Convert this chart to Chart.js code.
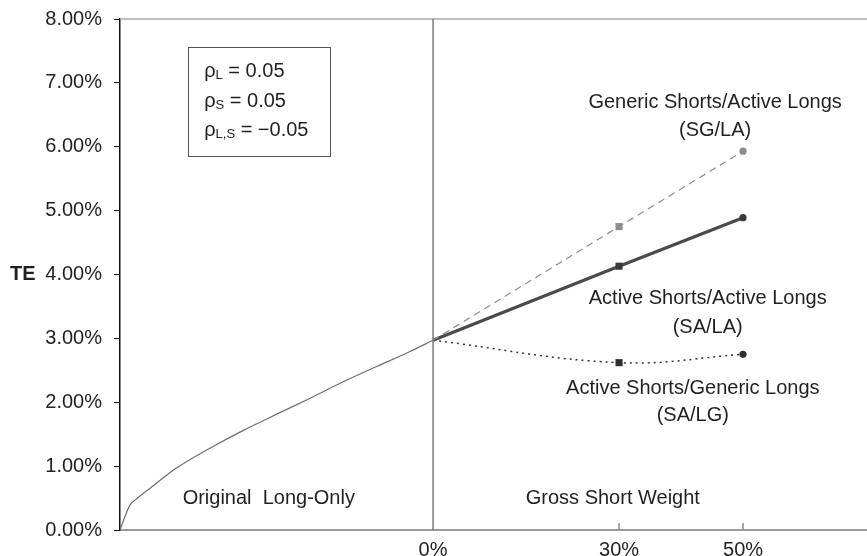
<!DOCTYPE html>
<html>
<head>
<meta charset="utf-8">
<script src="https://cdn.jsdelivr.net/npm/chart.js@4.4.0/dist/chart.umd.min.js"></script>
<style>
  html, body { margin: 0; padding: 0; background: #fff; overflow: hidden; }
  canvas { display: block; }
</style>
</head>
<body>
<canvas id="te-chart" width="867" height="556"></canvas>
<script>
(function () {
  'use strict';

  // --- Data (TE in %, x in gross short weight %) ---
  // Left side: the original long-only curve, rising to the 0% short point
  var longOnlyX  = [-50.5, -49.7, -48.9, -47.8, -45.7, -41.4, -36.0, -30.6, -25.3, -19.9, -14.5, -9.1, -3.8, 0];
  var longOnlyTE = [0.00, 0.21, 0.39, 0.49, 0.65, 0.97, 1.28, 1.56, 1.81, 2.06, 2.32, 2.56, 2.79, 2.97];

  var shortWeights = [0, 30, 50];
  var sgLaTE = [2.97, 4.75, 5.93];   // Generic Shorts / Active Longs
  var saLaTE = [2.97, 4.13, 4.89];   // Active Shorts / Active Longs
  var saLgTE = [2.97, 2.62, 2.75];   // Active Shorts / Generic Longs

  var xTickValues = [0, 30, 50];
  var yTickValues = [0, 1, 2, 3, 4, 5, 6, 7, 8];

  var FONT = '"Liberation Sans", Arial, Helvetica, sans-serif';
  var TEXT = '#231f20';
  var SIZE = 20;

  function pairs(xs, ys) {
    return xs.map(function (x, i) { return { x: x, y: ys[i] }; });
  }

  // Markers: none at 0%, square at 30%, circle at 50%
  var markerStyles = [false, 'rect', 'circle'];
  var markerSizes = [0, 5, 3.6];

  // --- Extras: frame lines, inner ticks, annotations, parameter box ---
  var extrasPlugin = {
    id: 'teExtras',
    afterDatasetsDraw: function (chart) {
      var ctx = chart.ctx;
      var area = chart.chartArea;
      var xs = chart.scales.x;
      var ys = chart.scales.y;
      var px = function (v) { return xs.getPixelForValue(v); };
      var py = function (v) { return ys.getPixelForValue(v); };

      ctx.save();

      // top frame line
      ctx.strokeStyle = '#ababab';
      ctx.lineWidth = 1.5;
      ctx.beginPath();
      ctx.moveTo(area.left, area.top);
      ctx.lineTo(area.right, area.top);
      ctx.stroke();

      // divider at 0% short weight
      ctx.strokeStyle = '#7a7a7a';
      ctx.lineWidth = 1.5;
      ctx.beginPath();
      ctx.moveTo(px(0), area.top);
      ctx.lineTo(px(0), area.bottom);
      ctx.stroke();

      // inner tick marks on x axis
      ctx.strokeStyle = '#8a8a8a';
      ctx.lineWidth = 1.5;
      xTickValues.slice(1).forEach(function (v) {
        ctx.beginPath();
        ctx.moveTo(px(v), area.bottom);
        ctx.lineTo(px(v), area.bottom - 7);
        ctx.stroke();
      });

      // annotations
      ctx.fillStyle = TEXT;
      ctx.font = SIZE + 'px ' + FONT;
      ctx.textAlign = 'center';
      ctx.textBaseline = 'middle';
      var notes = [
        ['Generic Shorts/Active Longs', 45.5, 6.69],
        ['(SG/LA)', 45.5, 6.25],
        ['Active Shorts/Active Longs', 44.3, 3.62],
        ['(SA/LA)', 44.3, 3.17],
        ['Active Shorts/Generic Longs', 41.9, 2.21],
        ['(SA/LG)', 41.9, 1.79],
        ['Gross Short Weight', 29, 0.49],
        ['Original  Long-Only', -26.5, 0.49]
      ];
      notes.forEach(function (n) { ctx.fillText(n[0], px(n[1]), py(n[2])); });

      // TE axis label
      ctx.font = 'bold ' + SIZE + 'px ' + FONT;
      ctx.textAlign = 'left';
      ctx.fillText('TE', 10, py(4));

      // parameter box
      var bx0 = px(-39.5), bx1 = px(-16.6);
      var by0 = py(7.56), by1 = py(5.85);
      ctx.fillStyle = '#fff';
      ctx.fillRect(bx0, by0, bx1 - bx0, by1 - by0);
      ctx.strokeStyle = '#555';
      ctx.lineWidth = 1;
      ctx.strokeRect(Math.round(bx0) + 0.5, Math.round(by0) + 0.5, Math.round(bx1 - bx0), Math.round(by1 - by0));

      var rows = [['L', ' = 0.05', 7.18], ['S', ' = 0.05', 6.71], ['L,S', ' = \u22120.05', 6.25]];
      ctx.fillStyle = TEXT;
      rows.forEach(function (r) {
        var x = bx0 + 16;
        var y = py(r[2]);
        ctx.font = SIZE + 'px ' + FONT;
        ctx.fillText('\u03c1', x, y);
        x += ctx.measureText('\u03c1').width;
        ctx.font = '13px ' + FONT;
        ctx.fillText(r[0], x, y + 4);
        x += ctx.measureText(r[0]).width;
        ctx.font = SIZE + 'px ' + FONT;
        ctx.fillText(r[1], x, y);
      });

      ctx.restore();
    }
  };

  var canvas = document.getElementById('te-chart');

  new Chart(canvas.getContext('2d'), {
    type: 'line',
    data: {
      datasets: [
        {
          label: 'Original Long-Only',
          data: pairs(longOnlyX, longOnlyTE),
          borderColor: '#6e6e6e',
          borderWidth: 1.2,
          pointRadius: 0,
          cubicInterpolationMode: 'monotone'
        },
        {
          label: 'SG/LA',
          data: pairs(shortWeights, sgLaTE),
          borderColor: '#8c8c8c',
          backgroundColor: '#8c8c8c',
          borderWidth: 1.2,
          borderDash: [7, 5],
          pointStyle: markerStyles,
          pointRadius: markerSizes,
          pointBorderWidth: 0
        },
        {
          label: 'SA/LA',
          data: pairs(shortWeights, saLaTE),
          borderColor: '#4a4a4a',
          backgroundColor: '#3a3a3a',
          borderWidth: 3.2,
          pointStyle: markerStyles,
          pointRadius: markerSizes,
          pointBorderWidth: 0
        },
        {
          label: 'SA/LG',
          data: pairs(shortWeights, saLgTE),
          borderColor: '#333',
          backgroundColor: '#2e2e2e',
          borderWidth: 1.5,
          borderDash: [2, 4],
          tension: 0.4,
          pointStyle: markerStyles,
          pointRadius: markerSizes,
          pointBorderWidth: 0
        }
      ]
    },
    options: {
      responsive: false,
      animation: false,
      events: [],
      layout: { autoPadding: false, padding: { top: 19, right: 0, left: 0, bottom: 0 } },
      plugins: {
        legend: { display: false },
        tooltip: { enabled: false }
      },
      scales: {
        x: {
          type: 'linear',
          min: -50.5,
          max: 70,
          afterBuildTicks: function (scale) {
            scale.ticks = xTickValues.map(function (v) { return { value: v }; });
          },
          afterFit: function (scale) {
            scale.height = 26;
            scale.paddingLeft = 0;
            scale.paddingRight = 0;
          },
          ticks: {
            autoSkip: false,
            maxRotation: 0,
            padding: 0,
            color: TEXT,
            font: { family: FONT, size: SIZE },
            callback: function (v) { return v + '%'; }
          },
          grid: { display: false },
          border: { color: '#9c9c9c', width: 2 }
        },
        y: {
          min: 0,
          max: 8,
          afterBuildTicks: function (scale) {
            scale.ticks = yTickValues.map(function (v) { return { value: v }; });
          },
          afterFit: function (scale) {
            scale.width = 120;
            scale.paddingTop = 0;
            scale.paddingBottom = 0;
          },
          ticks: {
            padding: 12,
            color: TEXT,
            font: { family: FONT, size: SIZE },
            callback: function (v) { return v.toFixed(2) + '%'; }
          },
          grid: {
            drawOnChartArea: false,
            drawTicks: true,
            tickLength: 6,
            color: '#111'
          },
          border: { color: '#111', width: 1.5 }
        }
      }
    },
    plugins: [extrasPlugin]
  });
})();
</script>
</body>
</html>
